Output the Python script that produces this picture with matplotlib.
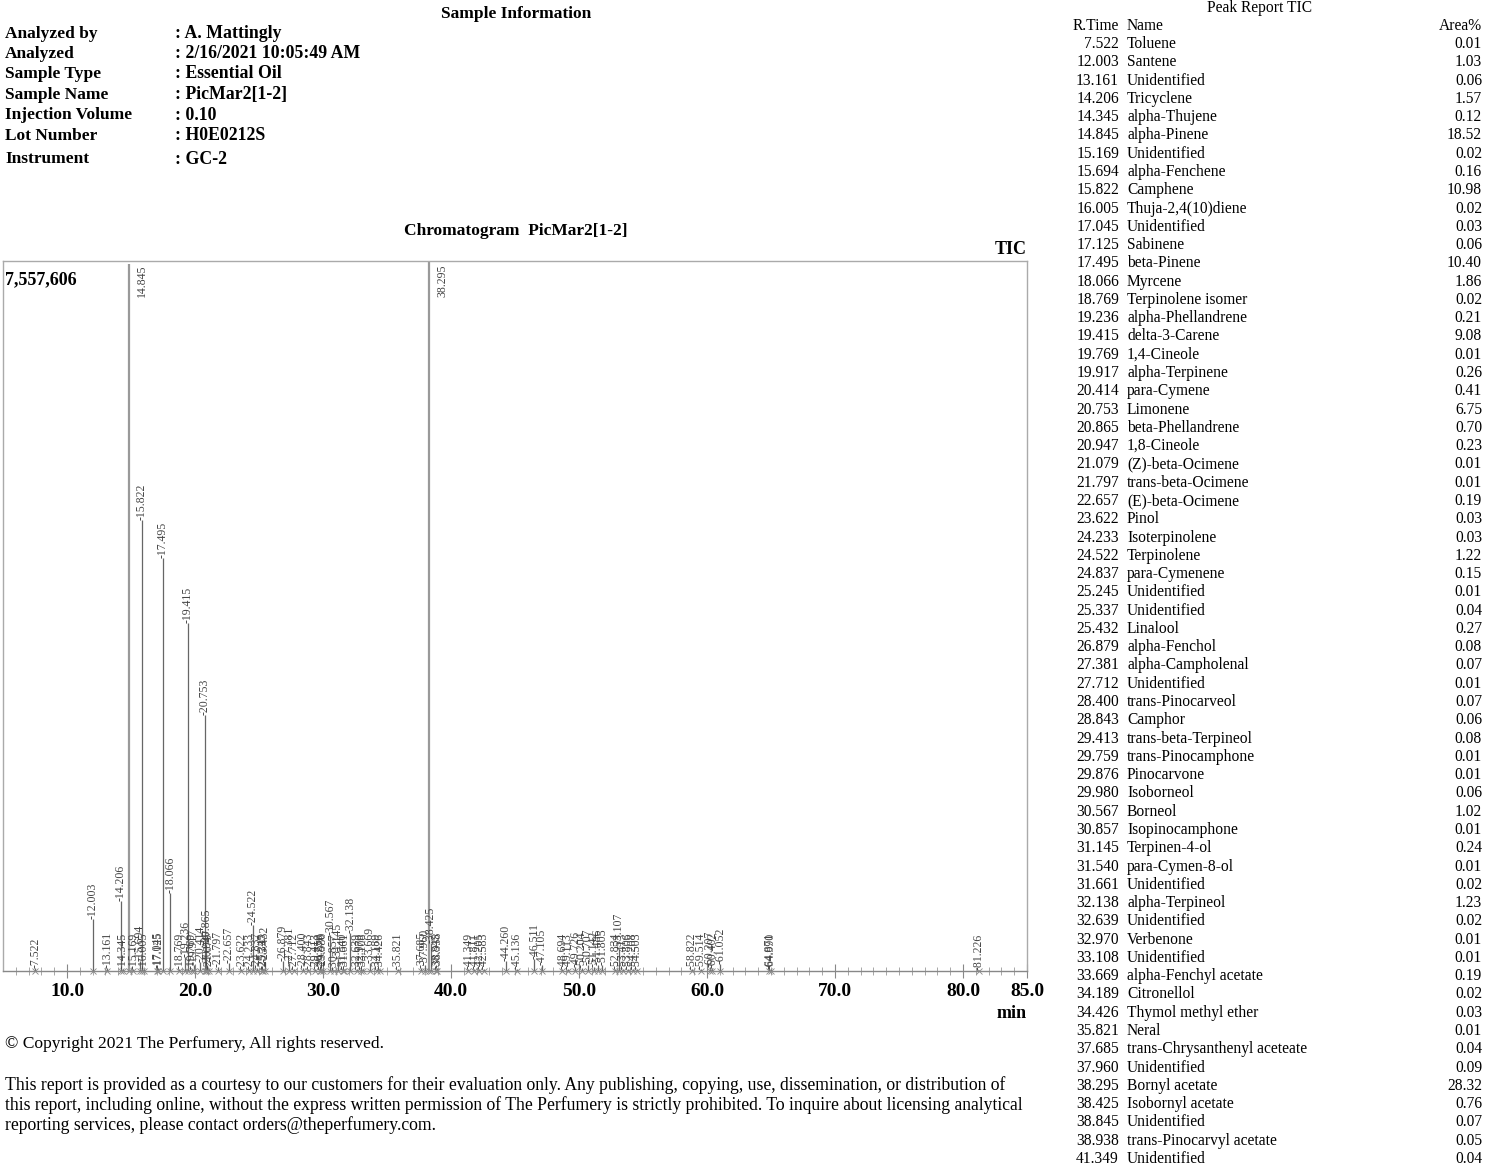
import matplotlib
matplotlib.use("Agg")
import matplotlib.pyplot as plt

plt.rcParams["font.family"] = ["Liberation Serif", "DejaVu Serif"]

# ---- sample information ----
info_keys = ["Analyzed by", "Analyzed", "Sample Type", "Sample Name",
             "Injection Volume", "Lot Number", "Instrument"]
info_vals = [": A. Mattingly", ": 2/16/2021 10:05:49 AM", ": Essential Oil",
             ": PicMar2[1-2]", ": 0.10", ": H0E0212S", ": GC-2"]

# ---- peak report (visible rows) ----
table_rt = ["7.522", "12.003", "13.161", "14.206", "14.345", "14.845", "15.169",
            "15.694", "15.822", "16.005", "17.045", "17.125", "17.495", "18.066",
            "18.769", "19.236", "19.415", "19.769", "19.917", "20.414", "20.753",
            "20.865", "20.947", "21.079", "21.797", "22.657", "23.622", "24.233",
            "24.522", "24.837", "25.245", "25.337", "25.432", "26.879", "27.381",
            "27.712", "28.400", "28.843", "29.413", "29.759", "29.876", "29.980",
            "30.567", "30.857", "31.145", "31.540", "31.661", "32.138", "32.639",
            "32.970", "33.108", "33.669", "34.189", "34.426", "35.821", "37.685",
            "37.960", "38.295", "38.425", "38.845", "38.938", "41.349"]
table_name = ["Toluene", "Santene", "Unidentified", "Tricyclene", "alpha-Thujene",
              "alpha-Pinene", "Unidentified", "alpha-Fenchene", "Camphene",
              "Thuja-2,4(10)diene", "Unidentified", "Sabinene", "beta-Pinene",
              "Myrcene", "Terpinolene isomer", "alpha-Phellandrene", "delta-3-Carene",
              "1,4-Cineole", "alpha-Terpinene", "para-Cymene", "Limonene",
              "beta-Phellandrene", "1,8-Cineole", "(Z)-beta-Ocimene",
              "trans-beta-Ocimene", "(E)-beta-Ocimene", "Pinol", "Isoterpinolene",
              "Terpinolene", "para-Cymenene", "Unidentified", "Unidentified",
              "Linalool", "alpha-Fenchol", "alpha-Campholenal", "Unidentified",
              "trans-Pinocarveol", "Camphor", "trans-beta-Terpineol",
              "trans-Pinocamphone", "Pinocarvone", "Isoborneol", "Borneol",
              "Isopinocamphone", "Terpinen-4-ol", "para-Cymen-8-ol", "Unidentified",
              "alpha-Terpineol", "Unidentified", "Verbenone", "Unidentified",
              "alpha-Fenchyl acetate", "Citronellol", "Thymol methyl ether", "Neral",
              "trans-Chrysanthenyl aceteate", "Unidentified", "Bornyl acetate",
              "Isobornyl acetate", "Unidentified", "trans-Pinocarvyl acetate",
              "Unidentified"]
table_area = ["0.01", "1.03", "0.06", "1.57", "0.12", "18.52", "0.02", "0.16",
              "10.98", "0.02", "0.03", "0.06", "10.40", "1.86", "0.02", "0.21",
              "9.08", "0.01", "0.26", "0.41", "6.75", "0.70", "0.23", "0.01",
              "0.01", "0.19", "0.03", "0.03", "1.22", "0.15", "0.01", "0.04",
              "0.27", "0.08", "0.07", "0.01", "0.07", "0.06", "0.08", "0.01",
              "0.01", "0.06", "1.02", "0.01", "0.24", "0.01", "0.02", "1.23",
              "0.02", "0.01", "0.01", "0.19", "0.02", "0.03", "0.01", "0.04",
              "0.09", "28.32", "0.76", "0.07", "0.05", "0.04"]

# ---- chromatogram peaks (later peaks) ----
extra_rt = ["41.811", "42.205", "42.583", "44.260", "45.136", "46.511", "47.105",
            "48.694", "49.113", "49.726", "50.204", "50.707", "51.142", "51.486",
            "51.805", "52.834", "53.107", "53.413", "53.806", "54.208", "54.503",
            "58.822", "59.514", "60.207", "60.402", "61.052", "64.871", "64.990",
            "81.226"]
peak_rt = table_rt + extra_rt
peak_height = [30000, 550000, 35000, 750000, 25000, 7530000, 25000,
               110000, 4800000, 25000, 30000, 30000, 4400000, 830000,
               20000, 150000, 3700000, 25000, 60000, 95000, 2720000,
               280000, 60000, 25000, 40000, 80000, 25000, 25000,
               490000, 30000, 20000, 25000, 95000, 110000, 90000,
               20000, 30000, 25000, 20000, 20000, 20000, 30000,
               380000, 15000, 130000, 20000, 20000, 400000, 25000,
               20000, 20000, 90000, 20000, 25000, 20000, 30000,
               60000, 7557606, 300000, 25000, 30000, 25000,
               25000, 20000, 25000, 110000, 25000, 130000, 60000,
               25000, 25000, 40000, 30000, 60000, 40000, 60000,
               60000, 25000, 230000, 25000, 25000, 25000, 25000,
               25000, 25000, 40000, 30000, 70000, 25000, 25000,
               15000]

Y_MAX = 7557606

fig = plt.figure(figsize=(15, 11.71), dpi=100)
W, H = 1500, 1171


def fx(x):
    return x / W


def fy(y):
    return 1 - y / H


# header
fig.text(fx(516), fy(14), "Sample Information", fontsize=12.5, fontweight="bold",
         ha="center", va="center")
info_y = [34, 54, 74, 95, 115, 136, 159]
for k, v, y in zip(info_keys, info_vals, info_y):
    fig.text(fx(5), fy(y), k, fontsize=12.5, fontweight="bold", va="center")
    fig.text(fx(175), fy(y), v, fontsize=12.8, fontweight="bold", va="center")

fig.text(fx(516), fy(231), "Chromatogram  PicMar2[1-2]", fontsize=12.5,
         fontweight="bold", ha="center", va="center")
fig.text(fx(1027), fy(250), "TIC", fontsize=13, fontweight="bold",
         ha="right", va="center")

# chromatogram
ax = fig.add_axes([fx(3), fy(971), fx(1027) - fx(3), fy(261) - fy(971)])
ax.set_xlim(5, 85)
ax.set_ylim(0, Y_MAX)
for s in ax.spines.values():
    s.set_color("#aaaaaa")
    s.set_linewidth(1.0)
ax.spines["bottom"].set_color("#888888")

rts = [float(r) for r in peak_rt]
colors = ["#999999" if h >= Y_MAX * 0.97 else "#666666" for h in peak_height]
widths = [1.6 if h >= Y_MAX * 0.97 else 0.9 for h in peak_height]
ax.vlines(rts, 0, peak_height, colors=colors, linewidths=widths)
ax.plot(rts, [0] * len(rts), linestyle="none", marker="x", markersize=4,
        color="#888888", markeredgewidth=0.6, clip_on=False)

for lab, rt, h in zip(peak_rt, rts, peak_height):
    if h >= Y_MAX * 0.97:
        ax.text(rt + 1.0, Y_MAX * 0.995, lab, rotation=90, ha="center", va="top",
                fontsize=8.5, color="#444444")
    else:
        ax.text(rt, h, "-" + lab, rotation=90, ha="center", va="bottom",
                fontsize=8.5, color="#444444")

ax.text(0.002, 0.985, "7,557,606", transform=ax.transAxes, fontsize=13,
        fontweight="bold", ha="left", va="top")

ax.set_yticks([])
major = [10, 20, 30, 40, 50, 60, 70, 80, 85]
ax.set_xticks(major)
ax.set_xticklabels([f"{m:.1f}" for m in major], fontsize=14, fontweight="bold")
ax.set_xticks(range(6, 85), minor=True)
ax.tick_params(axis="x", which="major", direction="inout", length=10,
               color="#888888", pad=4)
ax.tick_params(axis="x", which="minor", direction="inout", length=6,
               color="#999999")
fig.text(fx(1027), fy(1013), "min", fontsize=13, fontweight="bold",
         ha="right", va="center")

# footer
fig.text(fx(5), fy(1044), "\u00a9 Copyright 2021 The Perfumery, All rights reserved.",
         fontsize=12.6, va="center")
footer = ["This report is provided as a courtesy to our customers for their evaluation only. Any publishing, copying, use, dissemination, or distribution of",
          "this report, including online, without the express written permission of The Perfumery is strictly prohibited. To inquire about licensing analytical",
          "reporting services, please contact orders@theperfumery.com."]
for i, line in enumerate(footer):
    fig.text(fx(5), fy(1085 + 20 * i), line, fontsize=12.7, va="center")

# peak report table
fig.text(fx(1260), fy(8), "Peak Report TIC", fontsize=11.2, ha="center", va="center")
fig.text(fx(1119), fy(26), "R.Time", fontsize=11.2, ha="right", va="center")
fig.text(fx(1127), fy(26), "Name", fontsize=11.2, ha="left", va="center")
fig.text(fx(1482), fy(26), "Area%", fontsize=11.2, ha="right", va="center")
row_h = (1159 - 44) / 61
for i, (r, n, a) in enumerate(zip(table_rt, table_name, table_area)):
    y = 44 + i * row_h
    fig.text(fx(1119), fy(y), r, fontsize=11.2, ha="right", va="center")
    fig.text(fx(1127), fy(y), n, fontsize=11.2, ha="left", va="center")
    fig.text(fx(1482), fy(y), a, fontsize=11.2, ha="right", va="center")

fig.savefig("out.png", dpi=100, facecolor="white")
